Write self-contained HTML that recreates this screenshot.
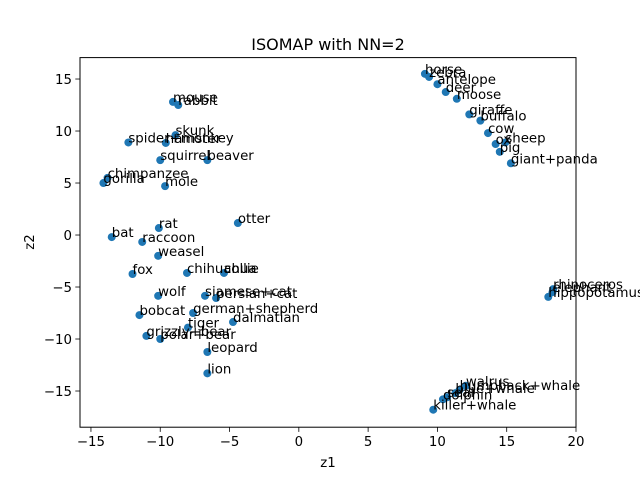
<!DOCTYPE html>
<html><head><meta charset="utf-8"><style>
html,body{margin:0;padding:0;background:#fff;width:640px;height:480px;overflow:hidden}
svg text{font-family:"DejaVu Sans","Liberation Sans",sans-serif}
</style></head><body>
<svg id="chart" width="640" height="480" viewBox="0 0 640 480" xmlns="http://www.w3.org/2000/svg">
<rect width="640" height="480" fill="#fff"/>
<text x="328" y="50" font-size="16" text-anchor="middle">ISOMAP with NN=2</text>
<g id="marks"></g>
<g id="labels"></g>
<rect x="80" y="57.6" width="496" height="369.6" fill="none" stroke="#000" stroke-width="1"/>
<g id="axes"></g>
<text x="328" y="467" font-size="13.33" text-anchor="middle">z1</text>
<text x="34" y="242" font-size="13.33" text-anchor="middle" transform="rotate(-90 34 242)">z2</text>
</svg>
<script>
const names=["horse","zebra","antelope","deer","moose","giraffe","buffalo","cow","sheep","ox","pig","giant+panda","mouse","rabbit","skunk","spider+monkey","hamster","squirrel","beaver","chimpanzee","gorilla","mole","rat","bat","raccoon","weasel","otter","fox","chihuahua","collie","wolf","siamese+cat","persian+cat","bobcat","german+shepherd","dalmatian","tiger","grizzly+bear","polar+bear","leopard","lion","rhinoceros","elephant","hippopotamus","walrus","humpback+whale","blue+whale","seal","dolphin","killer+whale"];
const z1=[9.1,9.4,10.0,10.6,11.4,12.3,13.1,13.65,14.9,14.2,14.5,15.3,-9.08,-8.7,-8.9,-12.3,-9.6,-10.0,-6.6,-13.8,-14.1,-9.65,-10.1,-13.5,-11.3,-10.15,-4.4,-12.0,-8.07,-5.4,-10.15,-6.77,-5.97,-11.5,-7.63,-4.75,-8.0,-11.0,-10.0,-6.6,-6.6,18.35,18.3,18.0,12.05,11.6,11.3,10.7,10.4,9.7];
const z2=[15.5,15.2,14.5,13.75,13.1,11.6,11.0,9.8,8.9,8.75,8.0,6.9,12.8,12.5,9.6,8.9,8.85,7.2,7.2,5.5,5.0,4.7,0.67,-0.2,-0.67,-2.0,1.15,-3.75,-3.65,-3.65,-5.85,-5.85,-6.06,-7.7,-7.5,-8.37,-8.9,-9.7,-10.0,-11.25,-13.3,-5.2,-5.5,-5.95,-14.5,-14.9,-15.2,-15.6,-15.8,-16.8];
const xTicks=[-15,-10,-5,0,5,10,15,20];
const yTicks=[-15,-10,-5,0,5,10,15];
const X0=80,X1=576,Y0=57.6,Y1=427.2,xmin=-15.79,xmax=20,ymin=-18.48,ymax=17.06;
function sx(v){return X0+(v-xmin)/(xmax-xmin)*(X1-X0);}
function sy(v){return Y1-(v-ymin)/(ymax-ymin)*(Y1-Y0);}
const NS="http://www.w3.org/2000/svg";
const marks=document.getElementById('marks'),labels=document.getElementById('labels'),axes=document.getElementById('axes');
function mk(t,a){const e=document.createElementNS(NS,t);for(const k in a)e.setAttribute(k,a[k]);return e;}
for(let i=0;i<names.length;i++){
 const c=mk('circle',{cx:sx(z1[i]),cy:sy(z2[i]),r:4,fill:'#1f77b4'});
 
 
 marks.appendChild(c);
}
for(let i=0;i<names.length;i++){
 const t=mk('text',{x:sx(z1[i]),y:sy(z2[i]),'font-size':13.33});
 t.textContent=names[i];
 
 
 labels.appendChild(t);
}
xTicks.forEach(v=>{
 const x=sx(v);
 const l=mk('line',{x1:x,x2:x,y1:Y1,y2:Y1+4.7,stroke:'#000','stroke-width':0.8});
 
 
 axes.appendChild(l);
 const t=mk('text',{x:x,y:Y1+19,'font-size':13.33,'text-anchor':'middle'});
 t.textContent=v<0?'\u2212'+(-v):String(v);
 
 
 axes.appendChild(t);
});
yTicks.forEach(v=>{
 const y=sy(v);
 const l=mk('line',{x1:X0-4.7,x2:X0,y1:y,y2:y,stroke:'#000','stroke-width':0.8});
 
 
 axes.appendChild(l);
 const t=mk('text',{x:X0-8,y:y+5,'font-size':13.33,'text-anchor':'end'});
 t.textContent=v<0?'\u2212'+(-v):String(v);
 
 
 axes.appendChild(t);
});
</script>
</body></html>
